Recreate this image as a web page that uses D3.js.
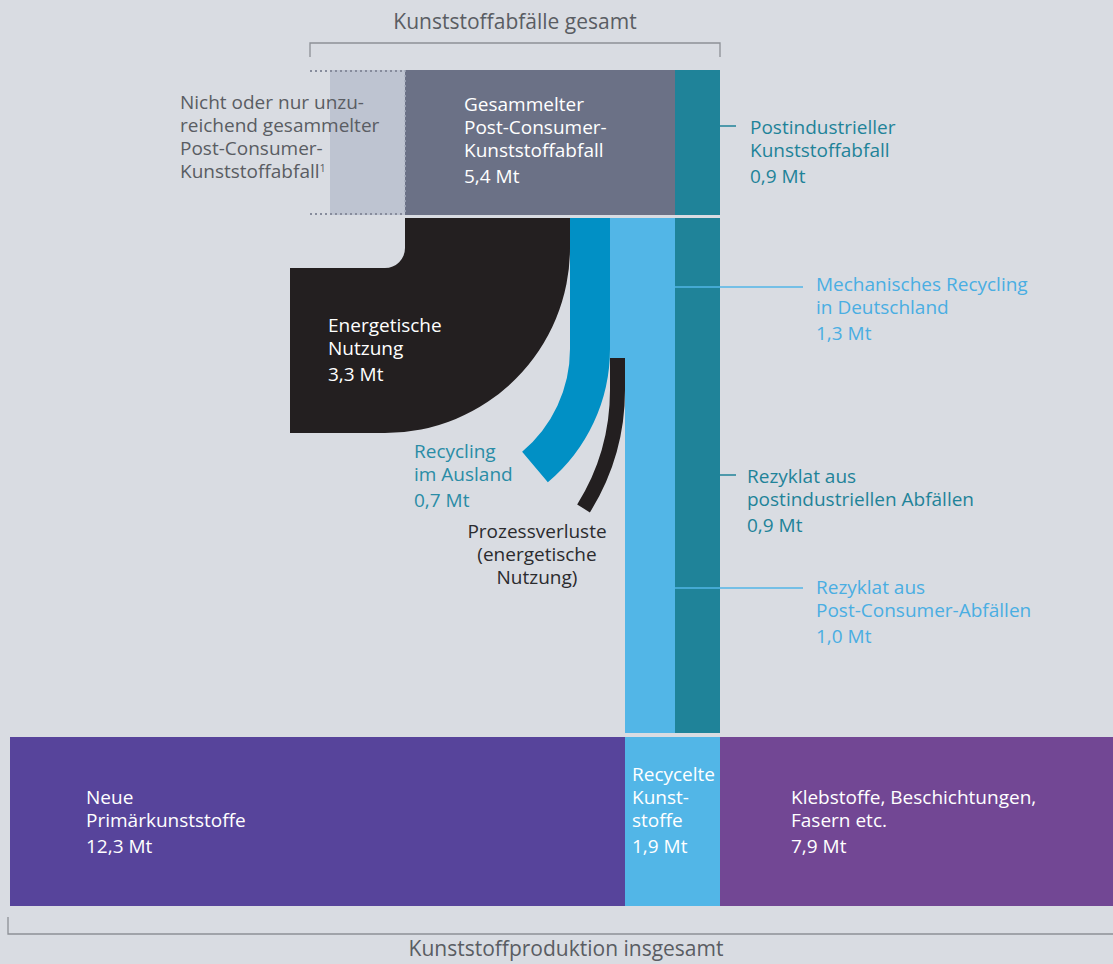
<!DOCTYPE html>
<html>
<head>
<meta charset="utf-8">
<script src="https://cdn.jsdelivr.net/npm/d3@7"></script>
<style>
  body { margin: 0; background: #d9dce2; }
  svg { display: block; font-family: "Open Sans", sans-serif; }
</style>
</head>
<body>
<svg id="chart" width="1113" height="964"></svg>
<script>
// values in Mt (million tonnes)
const wasteNames = ["Nicht oder nur unzureichend gesammelter Post-Consumer-Kunststoffabfall", "Gesammelter Post-Consumer-Kunststoffabfall", "Postindustrieller Kunststoffabfall"];
const wasteValues = [1.5, 5.4, 0.9];          // first value estimated, not labelled
const uncollectedUpper = 1.9;                  // dotted outline, estimated

const collectedNames = ["Energetische Nutzung", "Recycling im Ausland", "Mechanisches Recycling in Deutschland"];
const collectedValues = [3.3, 0.7, 1.3];

const mechanicalNames = ["Prozessverluste (energetische Nutzung)", "Rezyklat aus Post-Consumer-Abfällen"];
const mechanicalValues = [0.3, 1.0];           // first value estimated

const postIndustrialNames = ["Rezyklat aus postindustriellen Abfällen"];
const postIndustrialValues = [0.9];

const productionNames = ["Neue Primärkunststoffe", "Recycelte Kunststoffe", "Klebstoffe, Beschichtungen, Fasern etc."];
const productionValues = [12.3, 1.9, 7.9];

const bracketTitles = ["Kunststoffabfälle gesamt", "Kunststoffproduktion insgesamt"];

const labelLines = {
  uncollected: ["Nicht oder nur unzu-", "reichend gesammelter", "Post-Consumer-", "Kunststoffabfall"],
  collected: ["Gesammelter", "Post-Consumer-", "Kunststoffabfall"],
  postIndustrial: ["Postindustrieller", "Kunststoffabfall"],
  energy: ["Energetische", "Nutzung"],
  abroad: ["Recycling", "im Ausland"],
  mechanical: ["Mechanisches Recycling", "in Deutschland"],
  losses: ["Prozessverluste", "(energetische", "Nutzung)"],
  recPost: ["Rezyklat aus", "postindustriellen Abfällen"],
  recConsumer: ["Rezyklat aus", "Post-Consumer-Abfällen"],
  primary: ["Neue", "Primärkunststoffe"],
  recycled: ["Recycelte", "Kunst-", "stoffe"],
  other: ["Klebstoffe, Beschichtungen,", "Fasern etc."]
};

const colors = {
  uncollected: "#bec4d1", collected: "#6b7186", teal: "#1f8399", black: "#231f20",
  abroad: "#0190c5", light: "#52b6e7", primary: "#57449b", other: "#724794",
  text: "#2b2b2e", grey: "#5a5d63", bracket: "#8d9096", dots: "#878c9c",
  abroadText: "#2a8ca6", lightText: "#4aaee2"
};

const de = d3.formatLocale({ decimal: ",", thousands: ".", grouping: [3], currency: ["", " €"] });
const mt = v => de.format(".1f")(v) + " Mt";

const svg = d3.select("#chart");

const prodTotal = d3.sum(productionValues);
const x = d3.scaleLinear().domain([0, prodTotal]).range([10, 1115]);
const prodStart = d3.cumsum([0, ...productionValues]);

// top stack aligned right on the recycled block
const wasteRight = prodStart[2];
const postIndStart = wasteRight - wasteValues[2];
const collectedStart = postIndStart - wasteValues[1];
const uncollectedStart = collectedStart - wasteValues[0];
const outlineStart = collectedStart - uncollectedUpper;

const mechEnd = prodStart[1] + mechanicalValues[1];
const mechStart = mechEnd - collectedValues[2];
const energyEnd = collectedStart + collectedValues[0];

const yTop = 70, yTopEnd = 215, yFlow = 218, yColEnd = 733, yProd = 737, yProdEnd = 906;

// brackets
const bracket = svg.append("g").attr("stroke", colors.bracket).attr("fill", "none").attr("stroke-width", 1.3);
bracket.append("path")
  .attr("d", `M${x(outlineStart)},57V43H${x(wasteRight)}V57`);
bracket.append("path")
  .attr("d", `M${x(0) - 2},917V934H1113`);

svg.append("text")
  .attr("x", (x(outlineStart) + x(wasteRight)) / 2).attr("y", 29)
  .attr("text-anchor", "middle").attr("fill", colors.grey).style("font-size", "21px")
  .text(bracketTitles[0]);
svg.append("text")
  .attr("x", 566).attr("y", 956)
  .attr("text-anchor", "middle").attr("fill", colors.grey).style("font-size", "21px")
  .text(bracketTitles[1]);

// top waste blocks
svg.append("rect")
  .attr("x", x(uncollectedStart)).attr("y", yTop)
  .attr("width", x(collectedStart) - x(uncollectedStart)).attr("height", yTopEnd - yTop)
  .attr("fill", colors.uncollected);
svg.append("rect")
  .attr("x", x(collectedStart)).attr("y", yTop)
  .attr("width", x(postIndStart) - x(collectedStart)).attr("height", yTopEnd - yTop)
  .attr("fill", colors.collected);
svg.append("rect")
  .attr("x", x(postIndStart)).attr("y", yTop)
  .attr("width", x(wasteRight) - x(postIndStart)).attr("height", yTopEnd - yTop)
  .attr("fill", colors.teal);

const dots = svg.append("g").attr("fill", "none").attr("stroke-width", 2).attr("stroke-dasharray", "2,3");
dots.append("path").attr("stroke", colors.dots)
  .attr("d", `M${x(outlineStart)},${yTop + 1}H${x(collectedStart)}M${x(outlineStart)},${yTopEnd - 1}H${x(collectedStart)}`);
dots.append("path").attr("stroke", "#a7adbd").attr("stroke-width", 1.5)
  .attr("d", `M${x(collectedStart)},${yTop}V${yTopEnd}`);

// bending flow: vertical band x0..x1 that turns left around a centre at (x0 - r, yTurn)
function bend(x0, x1, yStart, yTurn, r, angle, tail = 0) {
  const cx = x0 - r, ro = r + (x1 - x0);
  const c = Math.cos(angle), s = Math.sin(angle);
  const p = d3.path();
  p.moveTo(x0, yStart);
  p.lineTo(x1, yStart);
  p.lineTo(x1, yTurn);
  p.arc(cx, yTurn, ro, 0, angle, false);
  if (tail) {
    p.lineTo(cx + ro * c - s * tail, yTurn + ro * s + c * tail);
    p.lineTo(cx + r * c - s * tail, yTurn + r * s + c * tail);
  }
  p.lineTo(cx + r * c, yTurn + r * s);
  p.arc(cx, yTurn, r, angle, 0, true);
  p.closePath();
  return p.toString();
}

const deg = a => a * Math.PI / 180;

// energetic use
const energyR = 20;
svg.append("path")
  .attr("d", bend(x(collectedStart), x(energyEnd), yFlow, 248, energyR, deg(90), x(collectedStart) - energyR - 290))
  .attr("fill", colors.black);

// recycling abroad (takes the rest of the collected width)
svg.append("path")
  .attr("d", bend(x(energyEnd), x(mechStart), yFlow, 349, 134, deg(50)))
  .attr("fill", colors.abroad);

// mechanical recycling in Germany
const yLoss = 358;
svg.append("rect")
  .attr("x", x(mechStart)).attr("y", yFlow)
  .attr("width", x(mechEnd) - x(mechStart)).attr("height", yLoss - yFlow)
  .attr("fill", colors.light);
svg.append("rect")
  .attr("x", x(prodStart[1])).attr("y", yFlow)
  .attr("width", x(mechEnd) - x(prodStart[1])).attr("height", yColEnd - yFlow)
  .attr("fill", colors.light);

// process losses
svg.append("path")
  .attr("d", bend(x(mechStart), x(mechStart + mechanicalValues[0]), yLoss, 390, 216, deg(32)))
  .attr("fill", colors.black);

// post-industrial recyclate column
svg.append("rect")
  .attr("x", x(postIndStart)).attr("y", yFlow)
  .attr("width", x(postIndStart + postIndustrialValues[0]) - x(postIndStart)).attr("height", yColEnd - yFlow)
  .attr("fill", colors.teal);

// production row
const prodColors = [colors.primary, colors.light, colors.other];
svg.selectAll(".prod")
  .data(productionValues)
  .enter()
  .append("rect")
  .attr("class", "prod")
  .attr("x", (d, i) => x(prodStart[i]))
  .attr("y", yProd)
  .attr("width", (d, i) => x(prodStart[i + 1]) - x(prodStart[i]))
  .attr("height", yProdEnd - yProd)
  .attr("fill", (d, i) => prodColors[i]);

// leader lines
const leaders = [
  { x1: x(wasteRight), x2: x(wasteRight) + 16, y: 126, c: colors.teal },
  { x1: x(mechEnd), x2: 803, y: 287, c: colors.light },
  { x1: x(wasteRight), x2: x(wasteRight) + 16, y: 475, c: colors.teal },
  { x1: x(mechEnd), x2: 803, y: 588, c: colors.light }
];
svg.selectAll(".leader")
  .data(leaders)
  .enter()
  .append("line")
  .attr("class", "leader")
  .attr("x1", d => d.x1).attr("x2", d => d.x2)
  .attr("y1", d => d.y).attr("y2", d => d.y)
  .attr("stroke", d => d.c).attr("stroke-width", 1.5);

// labels
function label(lines, value, lx, ly, color, anchor = "start") {
  const t = svg.append("text")
    .attr("x", lx).attr("fill", color).attr("text-anchor", anchor)
    .style("font-size", "19px");
  lines.forEach((l, i) => {
    t.append("tspan").attr("x", lx).attr("y", ly + i * 23).attr("dy", "0.35em").text(l);
  });
  if (value != null) {
    t.append("tspan").attr("x", lx).attr("y", ly + (lines.length - 1) * 23 + 26).attr("dy", "0.35em").text(mt(value));
  }
  return t;
}

const u = label(labelLines.uncollected, null, 180, 102, colors.grey);
u.append("tspan").attr("dy", "-0.5em").style("font-size", "11px").text("1");

label(labelLines.collected, wasteValues[1], 464, 104, "#fff");
label(labelLines.postIndustrial, wasteValues[2], 750, 127, colors.teal);
label(labelLines.energy, collectedValues[0], 328, 325, "#fff");
label(labelLines.mechanical, collectedValues[2], 816, 284, colors.lightText);
label(labelLines.abroad, collectedValues[1], 414, 451, colors.abroadText);
label(labelLines.recPost, postIndustrialValues[0], 747, 476, colors.teal);
label(labelLines.losses, null, 537, 531, colors.text, "middle");
label(labelLines.recConsumer, mechanicalValues[1], 816, 587, colors.lightText);
label(labelLines.primary, productionValues[0], 86, 797, "#fff");
label(labelLines.recycled, productionValues[1], 632, 774, "#fff");
label(labelLines.other, productionValues[2], 791, 797, "#fff");
</script>
</body>
</html>
